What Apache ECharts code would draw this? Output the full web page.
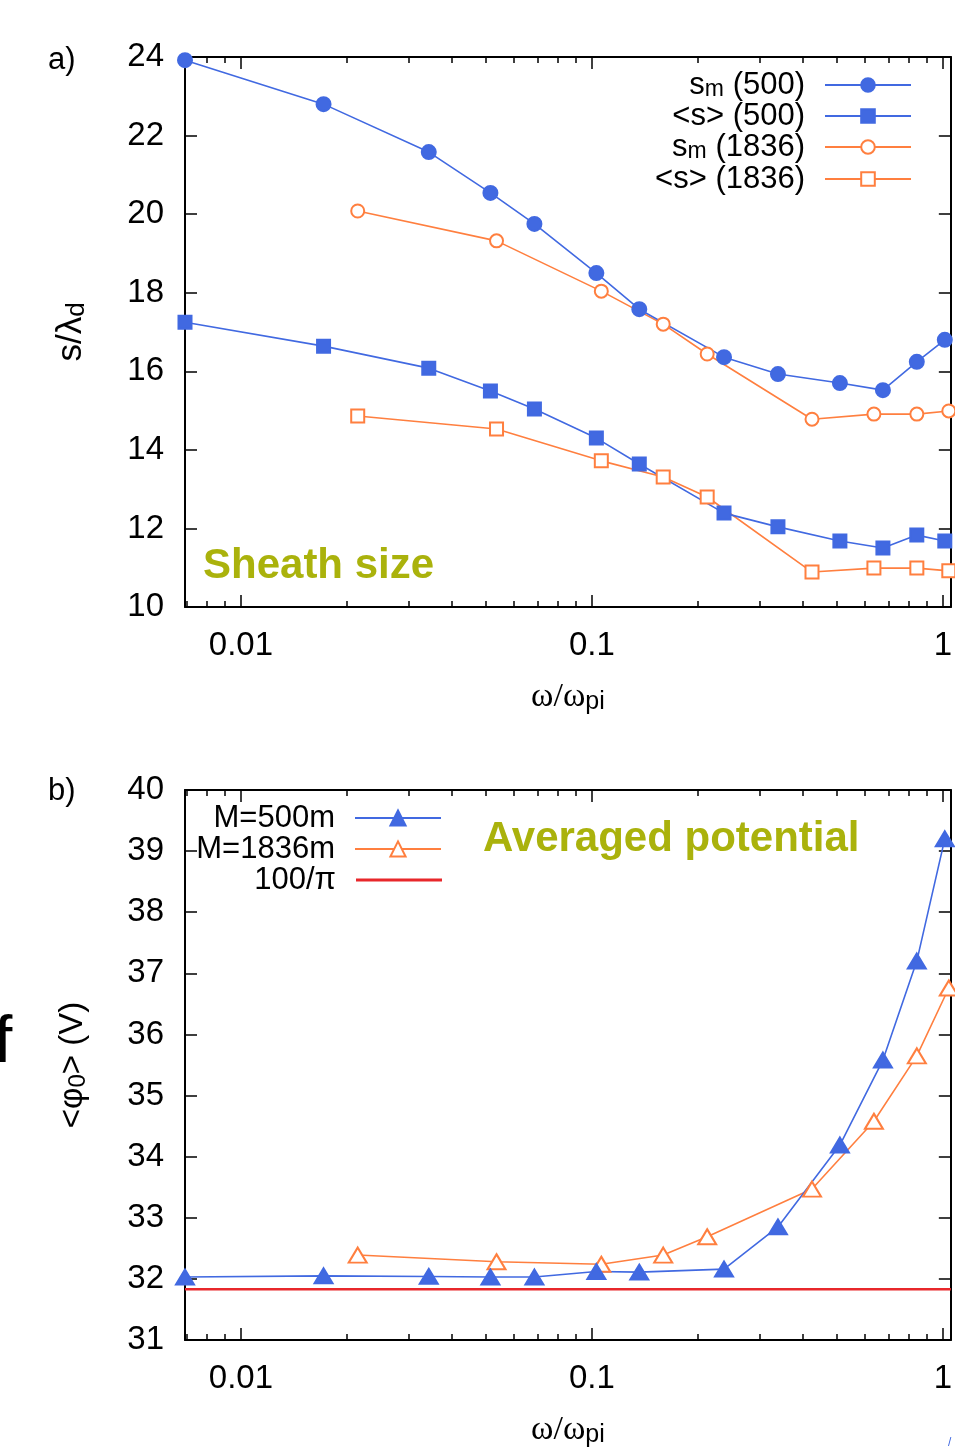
<!DOCTYPE html>
<html>
<head>
<meta charset="utf-8">
<script src="https://cdn.jsdelivr.net/npm/echarts@6/dist/echarts.min.js"></script>
<style>
html,body{margin:0;padding:0;background:#fff;}
#chart{width:955px;height:1449px;}
</style>
</head>
<body>
<div id="chart"></div>
<script>
// ---------- data ----------
const xRangeMin = 0.00693;
const xRangeMax = 1.054;
const xMajorTicks = [0.01, 0.1, 1];
const xMajorLabels = ['0.01', '0.1', '1'];
const xMinorTicks = [0.007, 0.008, 0.009, 0.02, 0.03, 0.04, 0.05, 0.06, 0.07, 0.08, 0.09,
                     0.2, 0.3, 0.4, 0.5, 0.6, 0.7, 0.8, 0.9];

const omega500  = [0.00693, 0.0172, 0.0343, 0.0514, 0.0686, 0.103, 0.1365, 0.238, 0.339, 0.509, 0.675, 0.843, 1.013];
const omega1836 = [0.02152, 0.0535, 0.1064, 0.1597, 0.2131, 0.4239, 0.6363, 0.8433, 1.040];

const sm500   = [23.92, 22.80, 21.58, 20.54, 19.75, 18.50, 17.58, 16.36, 15.93, 15.70, 15.52, 16.24, 16.80];
const savg500 = [17.25, 16.64, 16.08, 15.50, 15.04, 14.30, 13.64, 12.39, 12.04, 11.68, 11.50, 11.83, 11.68];
const sm1836   = [20.08, 19.32, 18.04, 17.20, 16.44, 14.78, 14.91, 14.91, 14.99];
const savg1836 = [14.86, 14.53, 13.72, 13.31, 12.80, 10.89, 10.99, 10.99, 10.92];

const phi500  = [32.03, 32.05, 32.04, 32.03, 32.03, 32.12, 32.11, 32.16, 32.85, 34.19, 35.58, 37.20, 39.20];
const phi1836 = [32.39, 32.28, 32.24, 32.39, 32.69, 33.47, 34.58, 35.65, 36.76];
const phiRef = 100 / Math.PI;

const yA = {min: 10, max: 24, interval: 2};
const yB = {min: 31, max: 40, interval: 1};

// ---------- build ----------
const L = Math.log10;
const BLUE = '#4169e1', ORANGE = '#ff7f3f', RED = '#e8272b', OLIVE = '#aab20c';
const FONT = 'Liberation Sans';
const pts = (xs, ys) => xs.map((x, i) => [L(x), ys[i]]);
const majorVals = xMajorTicks.map(L);
const minorVals = xMinorTicks.map(L);
const fmtX = v => {
  let best = 0;
  majorVals.forEach((m, i) => { if (Math.abs(m - v) < Math.abs(majorVals[best] - v)) best = i; });
  return xMajorLabels[best];
};

const grids = [
  {left: 185, top: 57, width: 767, height: 550},
  {left: 185, top: 790, width: 767, height: 550}
];

const xAxes = [];
function addX(gi, position, vals, len, showLine, showLabel) {
  const ax = {
    type: 'value', gridIndex: gi, position: position,
    min: L(xRangeMin), max: L(xRangeMax),
    splitLine: {show: false},
    axisLine: {show: showLine, onZero: false, lineStyle: {color: '#000', width: 2}},
    axisTick: {show: true, inside: true, length: len, customValues: vals, lineStyle: {color: '#000', width: 1.5}},
    axisLabel: {show: showLabel, customValues: vals, formatter: fmtX, fontSize: 33, color: '#000', fontFamily: FONT, margin: 22}
  };
  if (showLabel) {
    ax.name = 'ω/ω{sub|pi}';
    ax.nameLocation = 'middle';
    ax.nameGap = 72;
    ax.nameTextStyle = {
      fontFamily: 'Liberation Serif', fontSize: 34, color: '#000', lineHeight: 36,
      rich: {sub: {fontFamily: FONT, fontSize: 25, color: '#000', lineHeight: 17, verticalAlign: 'bottom'}}
    };
  }
  xAxes.push(ax);
  return xAxes.length - 1;
}
const xMain = [];
for (let g = 0; g < 2; g++) {
  xMain.push(addX(g, 'bottom', majorVals, 12, true, true));
  addX(g, 'bottom', minorVals, 6, false, false);
  addX(g, 'top', majorVals, 12, true, false);
  addX(g, 'top', minorVals, 6, false, false);
}

const yAxes = [];
function addY(gi, position, sc, showLabel, name, fs) {
  const ax = {
    type: 'value', gridIndex: gi, position: position,
    min: sc.min, max: sc.max, interval: sc.interval,
    splitLine: {show: false},
    axisLine: {show: true, onZero: false, lineStyle: {color: '#000', width: 2}},
    axisTick: {show: true, inside: true, length: 12, lineStyle: {color: '#000', width: 1.5}},
    axisLabel: {show: showLabel, fontSize: 33, color: '#000', fontFamily: FONT, margin: 21, padding: [4, 0, 0, 0]}
  };
  if (name) {
    ax.name = name;
    ax.nameLocation = 'middle';
    ax.nameRotate = 90;
    ax.nameGap = 95;
    ax.nameTextStyle = {
      fontFamily: FONT, fontSize: fs, color: '#000', lineHeight: fs + 2,
      rich: {sub: {fontFamily: FONT, fontSize: Math.round(fs * 0.74), color: '#000', lineHeight: 17, verticalAlign: 'bottom'}}
    };
  }
  yAxes.push(ax);
  return yAxes.length - 1;
}
const yMainA = addY(0, 'left', yA, true, 's/λ{sub|d}', 35);
addY(0, 'right', yA, false);
const yMainB = addY(1, 'left', yB, true, '<φ{sub|0}> (V)', 33);
addY(1, 'right', yB, false);

function lineSeries(name, xi, yi, data, color, symbol, size) {
  return {
    name: name, type: 'line', xAxisIndex: xi, yAxisIndex: yi, data: data,
    symbol: symbol, symbolSize: size, showSymbol: true, clip: false,
    lineStyle: {color: color, width: 1.6},
    itemStyle: {color: color, borderColor: color, borderWidth: 2},
    emphasis: {disabled: true}, z: 3
  };
}

const NAMES = {
  smA: 's_m (500)', savA: '<s> (500)', smB: 's_m (1836)', savB: '<s> (1836)',
  p500: 'M=500m', p1836: 'M=1836m', ref: '100/π'
};

const series = [
  lineSeries(NAMES.smB, xMain[0], yMainA, pts(omega1836, sm1836), ORANGE, 'emptyCircle', 13),
  lineSeries(NAMES.savB, xMain[0], yMainA, pts(omega1836, savg1836), ORANGE, 'emptyRect', 13),
  lineSeries(NAMES.smA, xMain[0], yMainA, pts(omega500, sm500), BLUE, 'circle', 14),
  lineSeries(NAMES.savA, xMain[0], yMainA, pts(omega500, savg500), BLUE, 'rect', 13),
  lineSeries(NAMES.p1836, xMain[1], yMainB, pts(omega1836, phi1836), ORANGE, 'emptyTriangle', [18, 15]),
  lineSeries(NAMES.p500, xMain[1], yMainB, pts(omega500, phi500), BLUE, 'triangle', [18, 15]),
  {
    name: NAMES.ref, type: 'line', xAxisIndex: xMain[1], yAxisIndex: yMainB,
    data: [[L(xRangeMin), phiRef], [L(xRangeMax), phiRef]],
    symbol: 'none', lineStyle: {color: RED, width: 2.5}, itemStyle: {color: RED},
    emphasis: {disabled: true}, z: 2
  }
];

const legendFmt = n => n.replace('_m', '{sub|m}');
function legendItem(name, rightEdge, yc, iconH, icon) {
  const lg = {
    data: [icon ? {name: name, icon: icon} : name],
    orient: 'vertical', align: 'right',
    right: 955 - rightEdge, top: yc - 16, padding: 0,
    itemWidth: 86, itemHeight: iconH,
    selectedMode: false, formatter: legendFmt,
    textStyle: {
      fontFamily: FONT, fontSize: 31, color: '#000', lineHeight: 32, padding: [0, 15, 0, 0],
      rich: {sub: {fontFamily: FONT, fontSize: 23, color: '#000', lineHeight: 16, verticalAlign: 'bottom'}}
    }
  };
  return lg;
}
const legends = [
  legendItem(NAMES.smA, 912, 85, 17),
  legendItem(NAMES.savA, 912, 116, 17),
  legendItem(NAMES.smB, 912, 147, 17),
  legendItem(NAMES.savB, 912, 179, 17),
  legendItem(NAMES.p500, 442, 818, 19),
  legendItem(NAMES.p1836, 442, 849, 19),
  legendItem(NAMES.ref, 442, 880, 3, 'rect')
];

const graphics = [
  {type: 'text', x: 48, y: 60, style: {text: 'a)', font: '31px "Liberation Sans"', fill: '#000', align: 'left', verticalAlign: 'middle'}},
  {type: 'text', x: 48, y: 791, style: {text: 'b)', font: '31px "Liberation Sans"', fill: '#000', align: 'left', verticalAlign: 'middle'}},
  {type: 'text', x: 203, y: 566, style: {text: 'Sheath size', font: 'bold 42px "Liberation Sans"', fill: OLIVE, align: 'left', verticalAlign: 'middle'}},
  {type: 'text', x: 483, y: 839, style: {text: 'Averaged potential', font: 'bold 42px "Liberation Sans"', fill: OLIVE, align: 'left', verticalAlign: 'middle'}},
  {type: 'text', x: -6, y: 1044, style: {text: 'f', font: '66px "Liberation Sans"', fill: '#000', align: 'left', verticalAlign: 'middle'}},
  {type: 'text', x: 948, y: 1443, style: {text: '/', font: '12px "Liberation Sans"', fill: BLUE, align: 'left', verticalAlign: 'middle'}}
];

const chart = echarts.init(document.getElementById('chart'), null, {renderer: 'canvas'});
chart.setOption({
  animation: false,
  backgroundColor: '#fff',
  textStyle: {fontFamily: FONT},
  grid: grids,
  xAxis: xAxes,
  yAxis: yAxes,
  legend: legends,
  series: series,
  graphic: graphics
});
</script>
</body>
</html>
